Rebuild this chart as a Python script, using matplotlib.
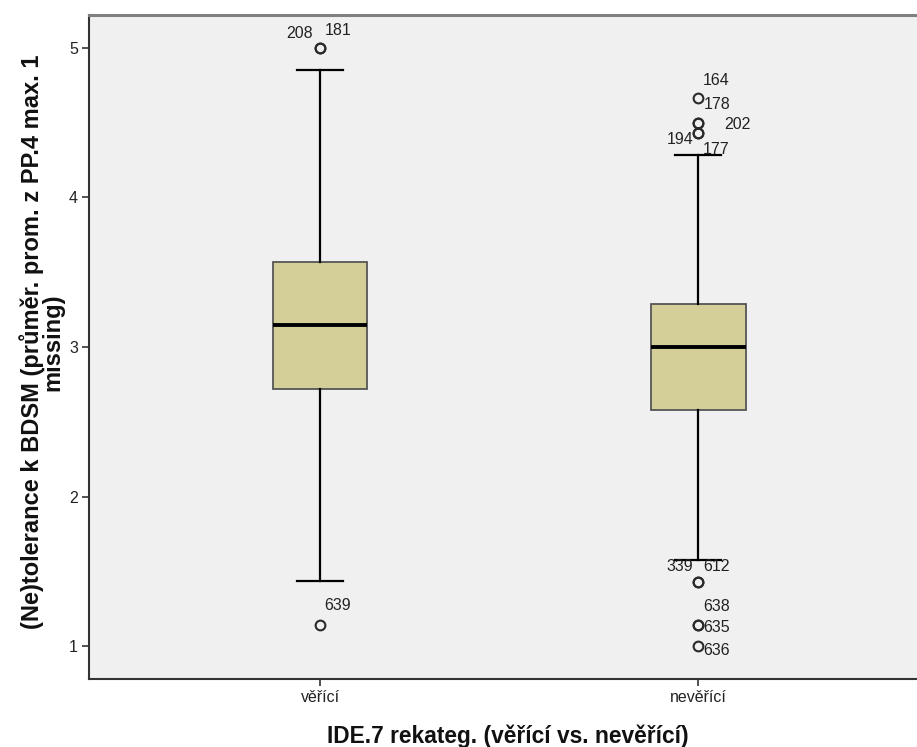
import matplotlib
matplotlib.use("Agg")
import matplotlib.pyplot as plt

plt.rcParams['font.family'] = ['Liberation Sans', 'DejaVu Sans']

# ---- data ----
categories = ['věřící', 'nevěřící']
q1 = [2.72, 2.58]
median = [3.147, 3.0]
q3 = [3.567, 3.287]
whisker_low = [1.434, 1.574]
whisker_high = [4.85, 4.282]
outliers = [
    [5.0, 5.0, 1.143],
    [4.667, 4.5, 4.5, 4.429, 4.429, 1.429, 1.429, 1.143, 1.143, 1.0],
]
outlier_ids = [
    ['208', '181', '639'],
    ['164', '178', '202', '194', '177', '339', '612', '638', '635', '636'],
]
y_ticks = [1, 2, 3, 4, 5]
y_label = '(Ne)tolerance k BDSM (průměr. prom. z PP.4 max. 1\nmissing)'
x_label = 'IDE.7 rekateg. (věřící vs. nevěřící)'

# label placement (pixel offsets from the marker, horizontal alignment)
label_offsets = [
    [(-7, 14, 'right'), (5, 17, 'left'), (4, 19, 'left')],
    [(5, 17, 'left'), (6, 18, 'left'), (26, -2, 'left'), (-5, -6, 'right'),
     (5, -16, 'left'), (-5, 15, 'right'), (5, 15, 'left'), (5, 18, 'left'),
     (5, -3, 'left'), (5, -4, 'left')],
]

# ---- figure ----
W, H = 917, 747
fig = plt.figure(figsize=(W / 100, H / 100), dpi=100)
fig.patch.set_facecolor('white')
ax = fig.add_axes([89 / W, 1 - 679 / H, (W - 89) / W, (679 - 15) / H])
ax.set_facecolor('#F0F0F0')

positions = [1, 2]
stats = []
for i, cat in enumerate(categories):
    stats.append(dict(label=cat, med=median[i], q1=q1[i], q3=q3[i],
                      whislo=whisker_low[i], whishi=whisker_high[i],
                      fliers=outliers[i]))

ax.bxp(stats, positions=positions, widths=0.251, capwidths=0.122,
       patch_artist=True, showfliers=True,
       boxprops=dict(facecolor='#D4CF98', edgecolor='#555555', linewidth=1.3),
       medianprops=dict(color='black', linewidth=2.8, solid_capstyle='butt'),
       whiskerprops=dict(color='black', linewidth=1.6),
       capprops=dict(color='black', linewidth=1.6),
       flierprops=dict(marker='o', markersize=7, markerfacecolor='none',
                       markeredgecolor='#2a2a2a', markeredgewidth=1.5))

for i, pos in enumerate(positions):
    for val, cid, (dx, dy, ha) in zip(outliers[i], outlier_ids[i], label_offsets[i]):
        ax.annotate(cid, xy=(pos, val), xytext=(dx, dy), textcoords='offset pixels',
                    ha=ha, va='center', fontsize=11.5, color='#222222')

ax.set_xlim(0.389, 2.579)
ax.set_ylim(0.78, 5.22)
ax.set_xticks(positions)
ax.set_xticklabels(categories)
ax.set_yticks(y_ticks)
ax.set_yticklabels([str(t) for t in y_ticks])
ax.tick_params(axis='both', direction='out', length=5, width=1.2,
               color='#333333', labelsize=11.5, labelcolor='#222222', pad=3)

for side in ['left', 'bottom']:
    ax.spines[side].set_color('#333333')
    ax.spines[side].set_linewidth(1.5)
ax.spines['top'].set_color('#808080')
ax.spines['top'].set_linewidth(2.2)
ax.spines['right'].set_visible(False)

# axis titles
fig.text(42 / W, 1 - 342 / H, y_label, rotation=90, rotation_mode='anchor',
         ha='center', va='center', multialignment='center', linespacing=0.85,
         fontsize=17, fontweight='bold', color='#111111')
fig.text(508 / W, 1 - 743 / H, x_label, ha='center', va='baseline',
         fontsize=16.4, fontweight='bold', color='#111111')

fig.savefig('out.png', dpi=100)
